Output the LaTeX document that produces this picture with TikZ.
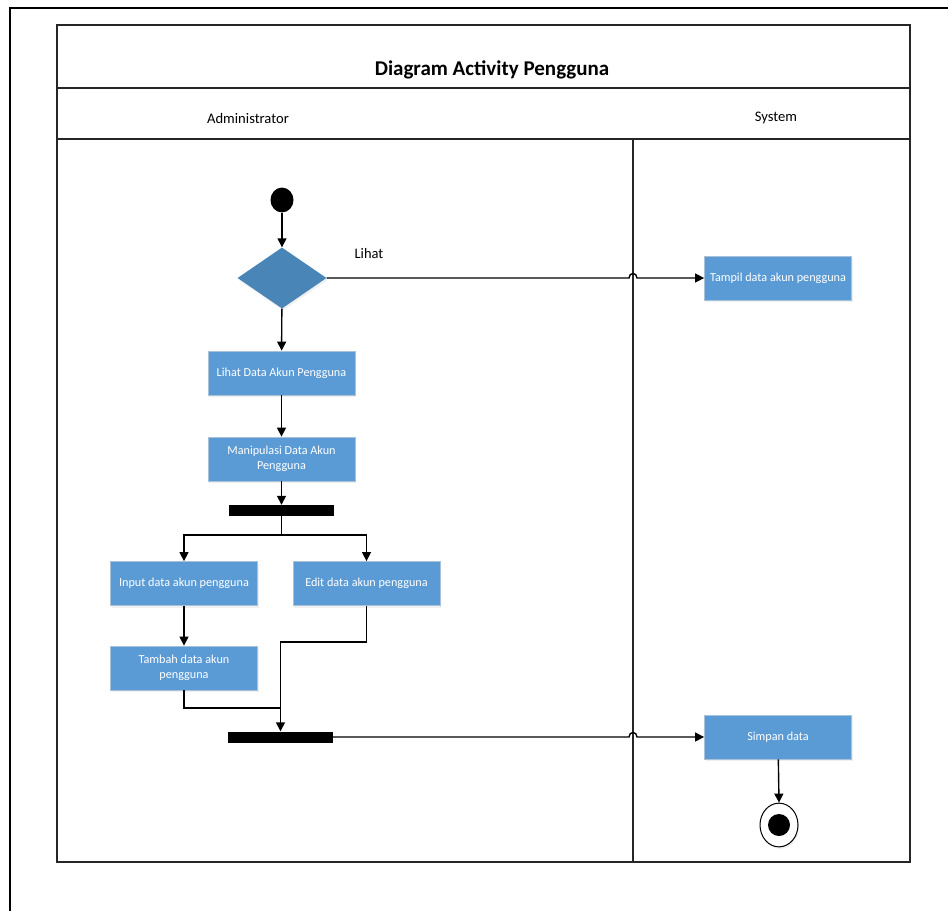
\documentclass[tikz,border=0pt]{standalone}
\usepackage{fontspec}
\setmainfont{Carlito}
\usetikzlibrary{arrows.meta,shapes.geometric,shadows}
\definecolor{actfill}{HTML}{5B9BD5}
\definecolor{actedge}{HTML}{A9C2DA}
\definecolor{decfill}{HTML}{4A85B7}
\begin{document}
\begin{tikzpicture}[x=1pt,y=-1pt,
  frame/.style={line width=1.8pt,black!85},
  lane/.style={line width=1.2pt,black!85},
  activity/.style={rectangle,fill=actfill,draw=actedge,line width=0.8pt,
    text=white,font=\fontsize{12.2}{14.5}\selectfont,align=center,
    minimum width=147pt,minimum height=44pt,inner sep=2pt,
    drop shadow={opacity=0.12,shadow xshift=1pt,shadow yshift=-2pt}},
  bar/.style={rectangle,fill=black,draw=none,minimum width=105pt,minimum height=11pt,inner sep=0pt},
  flow/.style={line width=1.4pt},
  arr/.style={flow,-{Triangle[length=9pt,width=9pt]}},
  lanehead/.style={font=\fontsize{14.6}{16}\selectfont}
]
\useasboundingbox (0,0) rectangle (948,911);
\fill[white] (0,0) rectangle (948,911);

% outer page frame
\draw[line width=2pt] (9.5,911) -- (9.5,7.5) -- (948,7.5);

% swimlane frame
\draw[frame] (57,25) rectangle (910,862);
\draw[frame] (57,88) -- (910,88);
\draw[frame] (57,139) -- (910,139);
\draw[lane] (633,139) -- (633,862);

\node[font=\bfseries\fontsize{21}{24}\selectfont] (title) at (492,70) {Diagram Activity Pengguna};
\node[lanehead] (admin) at (248,118) {Administrator};
\node[lanehead] (sys) at (776,118) {System};

% nodes
\node[circle,fill=black,minimum size=23pt,inner sep=0pt,yscale=1.08] (start) at (282,200) {};
\node[diamond,fill=decfill,minimum width=89pt,minimum height=61pt,aspect=1.46,inner sep=0pt,
  drop shadow={opacity=0.12,shadow xshift=1pt,shadow yshift=-2pt}] (dec) at (282,278) {};
\node[font=\fontsize{14.5}{16}\selectfont] (lihatlbl) at (369,254) {Lihat};
\node[activity] (tampil) at (778,278) {Tampil data akun pengguna};
\node[activity] (lihat) at (281.5,373) {Lihat Data Akun Pengguna};
\node[activity] (manip) at (281.5,459) {Manipulasi Data Akun\\Pengguna};
\node[bar] (fork) at (281.5,510.5) {};
\node[activity] (input) at (184,583.5) {Input data akun pengguna};
\node[activity] (edit) at (366.5,583.5) {Edit data akun pengguna};
\node[activity] (tambah) at (184,668) {Tambah data akun\\pengguna};
\node[bar] (join) at (280.5,737) {};
\node[activity] (simpan) at (778,737) {Simpan data};
\node[circle,draw=black,line width=1pt,fill=white,minimum width=38pt,inner sep=0pt,
  yscale=1.15,drop shadow={opacity=0.12,shadow xshift=1pt,shadow yshift=-2pt}] (endo) at (779,825) {};
\node[circle,fill=black,minimum size=22pt,inner sep=0pt] (endi) at (779,825) {};

% flows
\draw[arr] (start) -- (dec);
\draw[arr] (dec.east) -- (629,278) .. controls (629,272) and (637,272) .. (637,278) -- (tampil.west);
\draw[arr] (dec) -- (lihat);
\draw[arr] (lihat) -- (manip);
\draw[arr] (manip) -- (fork);
\draw[flow] (fork.south) -- (281.5,535) coordinate (split);
\draw[arr] (split) -| (input.north);
\draw[arr] (split) -| (edit.north);
\draw[arr] (input) -- (tambah);
\draw[flow] (tambah.south) |- (280.5,708);
\draw[arr] (edit.south) |- (280.5,642) -- (join.north);
\draw[arr] (join.east) -- (629,737) .. controls (629,731) and (637,731) .. (637,737) -- (simpan.west);
\draw[arr] (simpan) -- (endo.north);
\end{tikzpicture}
\end{document}
